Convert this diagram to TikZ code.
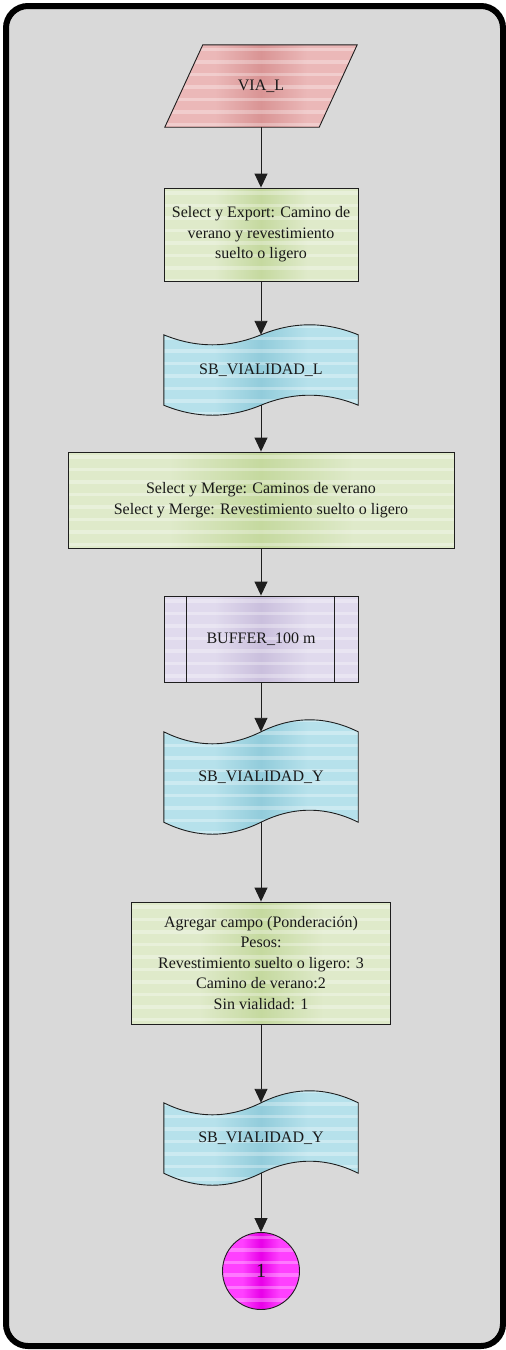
\documentclass[tikz,border=0pt]{standalone}
\usepackage{fontspec}
\setmainfont{Liberation Serif}
\usetikzlibrary{arrows.meta}

\pgfdeclarelayer{back}
\pgfdeclarelayer{shapes}
\pgfsetlayers{back,shapes,main}

\definecolor{panel}{HTML}{D9D9D9}
\definecolor{pinkA}{HTML}{EBB8B8}
\definecolor{pinkB}{HTML}{D99494}
\definecolor{greenA}{HTML}{DFEACA}
\definecolor{greenB}{HTML}{C5D99F}
\definecolor{blueA}{HTML}{B6E1EB}
\definecolor{blueB}{HTML}{92CCDB}
\definecolor{lilacA}{HTML}{E0DAED}
\definecolor{lilacB}{HTML}{CABFDD}
\definecolor{magA}{HTML}{FF40FF}
\definecolor{magB}{HTML}{E800E8}
\definecolor{inkline}{HTML}{1E1E1E}
\colorlet{wbase}{white}
\colorlet{wdark}{gray}

% woven look: vertical colour bands plus light horizontal streaks
\pgfdeclarehorizontalshading[wbase,wdark]{weave}{100bp}{%
  color(0bp)=(wbase); color(12bp)=(wdark); color(24bp)=(wbase);
  color(38bp)=(wbase); color(50bp)=(wdark); color(62bp)=(wbase);
  color(76bp)=(wbase); color(88bp)=(wdark); color(100bp)=(wbase)}

\newcommand\weavefill[2]{%
  \colorlet{wbase}{#1}\colorlet{wdark}{#2}%
  \shade[shading=weave] (path picture bounding box.south west)
    rectangle (path picture bounding box.north east);
  \foreach \k in {0,...,24}{%
    \fill[white,opacity=.3]
      ([yshift=-\k*12.5pt-3pt]path picture bounding box.north west) rectangle
      ([yshift=-\k*12.5pt-6.5pt]path picture bounding box.north east);
  }%
}

% wavy data-store outline around a text node (#1 = node, #2 = wave amplitude)
\newcommand\tapeoutline[2]{%
  \path[stepline, bluefill] (#1.north west)
    .. controls +(32.33,4*#2/3) and +(-32.33,4*#2/3) .. (#1.north)
    .. controls +(32.33,-4*#2/3) and +(-32.33,-4*#2/3) .. (#1.north east)
    -- (#1.south east)
    .. controls +(-32.33,-4*#2/3) and +(32.33,-4*#2/3) .. (#1.south)
    .. controls +(-32.33,4*#2/3) and +(32.33,4*#2/3) .. (#1.south west)
    -- cycle;}

\begin{document}
\begin{tikzpicture}[x=1pt, y=-1pt,
  font=\fontsize{16}{20.5}\selectfont,
  stepline/.style={draw=inkline, line width=0.9pt},
  procbox/.style={rectangle, stepline, align=center, inner sep=0pt, text=black!90},
  textframe/.style={rectangle, align=center, inner sep=0pt, text=black!90},
  conn/.style={draw=inkline, line width=0.9pt, -{Triangle[length=14pt,width=13pt]}},
  pinkfill/.style={fill=pinkA, path picture={\weavefill{pinkA}{pinkB}}},
  greenfill/.style={fill=greenA, path picture={\weavefill{greenA}{greenB}}},
  bluefill/.style={fill=blueA, path picture={\weavefill{blueA}{blueB}}},
  lilacfill/.style={fill=lilacA, path picture={\weavefill{lilacA}{lilacB}}},
  magfill/.style={fill=magA, path picture={\weavefill{magA}{magB}}}]

\useasboundingbox (0,0) rectangle (506,1350);

\begin{pgfonlayer}{back}
  \draw[line width=6pt, fill=panel, rounded corners=22pt] (6,6) rectangle (503,1346);
\end{pgfonlayer}

% input layer
\node[textframe, minimum width=154pt, minimum height=82pt] (via) at (261,86) {VIA\_L};
\begin{pgfonlayer}{shapes}
  \path[stepline, pinkfill]
    ([xshift=19pt]via.north west) -- ([xshift=19pt]via.north east)
    -- ([xshift=-19pt]via.south east) -- ([xshift=-19pt]via.south west) -- cycle;
\end{pgfonlayer}

\node[procbox, greenfill, minimum width=194pt, minimum height=93pt] (export) at (261,234.5)
  {Select y Export: Camino de\\verano y revestimiento\\suelto o ligero};

\node[textframe, minimum width=194pt, minimum height=70pt] (roadsL) at (261,370) {SB\_VIALIDAD\_L};
\begin{pgfonlayer}{shapes}\tapeoutline{roadsL}{10}\end{pgfonlayer}

\node[procbox, greenfill, minimum width=386pt, minimum height=96pt] (merge) at (261,500)
  {Select y Merge: Caminos de verano\\Select y Merge: Revestimiento suelto o ligero};

\node[procbox, lilacfill, minimum width=194pt, minimum height=86pt] (buffer) at (261,639) {BUFFER\_100 m};
\draw[stepline] ([xshift=23pt]buffer.north west) -- ([xshift=23pt]buffer.south west);
\draw[stepline] ([xshift=-24pt]buffer.north east) -- ([xshift=-24pt]buffer.south east);

\node[textframe, minimum width=194pt, minimum height=90pt] (roadsY) at (261,777) {SB\_VIALIDAD\_Y};
\begin{pgfonlayer}{shapes}\tapeoutline{roadsY}{12}\end{pgfonlayer}

\node[procbox, greenfill, minimum width=259pt, minimum height=122pt] (weights) at (261,963)
  {Agregar campo (Ponderación)\\Pesos:\\Revestimiento suelto o ligero: 3\\Camino de verano:2\\Sin vialidad: 1};

\node[textframe, minimum width=194pt, minimum height=70pt] (roadsY2) at (261,1138) {SB\_VIALIDAD\_Y};
\begin{pgfonlayer}{shapes}\tapeoutline{roadsY2}{12}\end{pgfonlayer}

\node[circle, stepline, magfill, minimum size=77pt, inner sep=0pt,
  font=\fontsize{20}{24}\selectfont, text=black!90] (link) at (261,1271) {1};

% flow connectors
\draw[conn] (via.south) -- (export.north);
\draw[conn] (export.south) -- (roadsL.north);
\draw[conn] (roadsL.south) -- (merge.north);
\draw[conn] (merge.south) -- (buffer.north);
\draw[conn] (buffer.south) -- (roadsY.north);
\draw[conn] (roadsY.south) -- (weights.north);
\draw[conn] (weights.south) -- (roadsY2.north);
\draw[conn] (roadsY2.south) -- (link.north);
\end{tikzpicture}
\end{document}
